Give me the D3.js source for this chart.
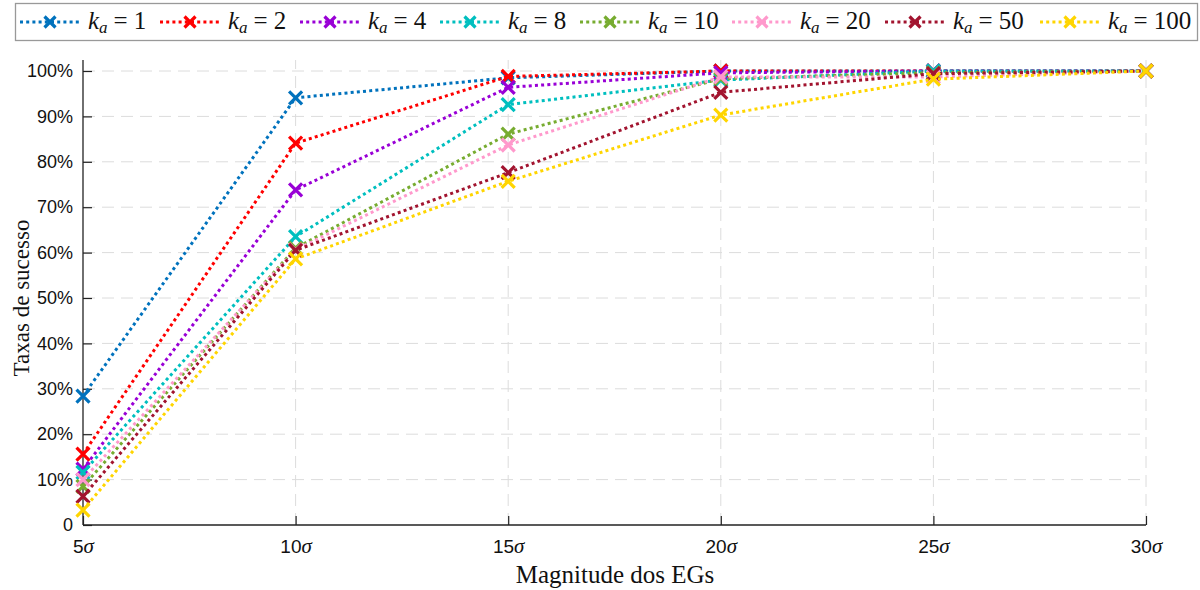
<!DOCTYPE html>
<html>
<head>
<meta charset="utf-8">
<script src="https://cdn.jsdelivr.net/npm/d3@7"></script>
<style>
  html, body { margin: 0; padding: 0; background: #fff; }
  svg { display: block; }
</style>
</head>
<body>
<svg id="chart" width="1200" height="590"></svg>
<script>
// Magnitudes (multiples of sigma) on the x axis
const magnitudes = [5, 10, 15, 20, 25, 30];
const xTickLabels = ["5", "10", "15", "20", "25", "30"];
const yTicks = [0, 10, 20, 30, 40, 50, 60, 70, 80, 90, 100];

// Success rate (%) for each k_a
const kaLabels = ["1", "2", "4", "8", "10", "20", "50", "100"];
const rateKa1   = [28.4, 94.1, 98.5, 100.0, 100.0, 100];
const rateKa2   = [15.6, 84.1, 98.8, 100.0, 100.0, 100];
const rateKa4   = [12.3, 73.8, 96.4,  99.6, 100.0, 100];
const rateKa8   = [11.6, 63.5, 92.6,  98.0, 100.0, 100];
const rateKa10  = [ 8.5, 61.0, 86.1,  98.3,  99.6, 100];
const rateKa20  = [10.0, 60.6, 83.7,  98.7,  98.7, 100];
const rateKa50  = [ 6.3, 60.5, 77.6,  95.3,  99.4, 100];
const rateKa100 = [ 3.3, 58.6, 75.7,  90.3,  98.2, 100];
const seriesColors = ["#0072BD", "#FF0000", "#9900D6", "#00BFBF", "#77AC30", "#FF99CC", "#A2142F", "#FFD500"];

const seriesValues = [rateKa1, rateKa2, rateKa4, rateKa8, rateKa10, rateKa20, rateKa50, rateKa100];
const series = kaLabels.map((k, i) => ({
  k, color: seriesColors[i],
  points: magnitudes.map((m, j) => ({ m, v: seriesValues[i][j] }))
}));

const svg = d3.select("#chart");
const plotLeft = 83, plotRight = 1146, plotBottom = 525, plotTop = 60;
const x = d3.scaleLinear().domain([5, 30]).range([plotLeft, plotRight]);
const y = d3.scaleLinear().domain([0, 100]).range([plotBottom, 71]);

const serif = "'Liberation Serif', 'DejaVu Serif', serif";
const sans = "'Liberation Sans', Arial, sans-serif";

// Grid
const grid = svg.append("g").attr("stroke", "#dcdcdc").attr("stroke-width", 1)
  .attr("stroke-dasharray", "12,7").attr("fill", "none");
grid.selectAll("line.gy").data(yTicks.filter(t => t > 0)).join("line")
  .attr("x1", plotLeft).attr("x2", plotRight).attr("y1", d => y(d)).attr("y2", d => y(d));
grid.selectAll("line.gx").data(magnitudes.filter(m => m > 5)).join("line")
  .attr("x1", d => x(d)).attr("x2", d => x(d)).attr("y1", plotBottom).attr("y2", plotTop);

// Axes with inward ticks
const yAxis = d3.axisLeft(y).tickValues(yTicks).tickSizeInner(-9).tickSizeOuter(0).tickPadding(10)
  .tickFormat(d => d === 0 ? "0" : d + "%");
const gy = svg.append("g").attr("transform", `translate(${plotLeft},0)`).call(yAxis);
gy.select(".domain").remove();
gy.selectAll("text").attr("font-family", sans).attr("font-size", 18).attr("fill", "#111");
gy.selectAll("line").attr("stroke", "#222").attr("stroke-width", 1.2);

const xAxis = d3.axisBottom(x).tickValues(magnitudes).tickSizeInner(-9).tickSizeOuter(0).tickPadding(15)
  .tickFormat((d, i) => xTickLabels[i]);
const gx = svg.append("g").attr("transform", `translate(0,${plotBottom})`).call(xAxis);
gx.select(".domain").remove();
gx.selectAll("line").attr("stroke", "#222").attr("stroke-width", 1.2);
gx.selectAll("text").attr("font-family", sans).attr("font-size", 19).attr("fill", "#111")
  .append("tspan").attr("font-family", serif).attr("font-style", "italic").attr("font-size", 21).text("σ");

svg.append("line").attr("x1", plotLeft).attr("x2", plotLeft).attr("y1", plotTop).attr("y2", plotBottom)
  .attr("stroke", "#222").attr("stroke-width", 1.3);
svg.append("line").attr("x1", plotLeft).attr("x2", plotRight).attr("y1", plotBottom).attr("y2", plotBottom)
  .attr("stroke", "#222").attr("stroke-width", 1.3);

// Axis titles
svg.append("text").attr("x", 615).attr("y", 583).attr("text-anchor", "middle")
  .attr("font-family", serif).attr("font-size", 25).attr("fill", "#111").text("Magnitude dos EGs");
svg.append("text").attr("transform", `translate(29,298) rotate(-90)`)
  .attr("text-anchor", "middle").attr("font-family", serif).attr("font-size", 23).attr("fill", "#111")
  .text("Taxas de sucesso");

// Series lines and markers
const line = d3.line().x(d => x(d.m)).y(d => y(d.v));
const cross = (g, cx, cy, r, color, w) => {
  g.append("path").attr("d", `M${cx - r},${cy - r}L${cx + r},${cy + r}M${cx - r},${cy + r}L${cx + r},${cy - r}`)
    .attr("stroke", color).attr("stroke-width", w).attr("fill", "none");
};
const gs = svg.append("g");
series.forEach(s => {
  const g = gs.append("g");
  g.append("path").attr("d", line(s.points)).attr("fill", "none").attr("stroke", s.color)
    .attr("stroke-width", 3).attr("stroke-dasharray", "3,3.2");
  s.points.forEach(p => cross(g, x(p.m), y(p.v), 6.5, s.color, 3.2));
});

// Legend
const lg = svg.append("g");
lg.append("rect").attr("x", 15.5).attr("y", 3.5).attr("width", 1182).attr("height", 37)
  .attr("fill", "#fff").attr("stroke", "#999").attr("stroke-width", 1.3);
const itemX = [20, 160, 300, 440, 580, 732, 885, 1040];
series.forEach((s, i) => {
  const x0 = itemX[i];
  const g = lg.append("g");
  g.append("line").attr("x1", x0).attr("x2", x0 + 60).attr("y1", 22).attr("y2", 22)
    .attr("stroke", s.color).attr("stroke-width", 3).attr("stroke-dasharray", "3,3.2");
  cross(g, x0 + 30, 22, 5.5, s.color, 3.2);
  const t = g.append("text").attr("x", x0 + 68).attr("y", 29).attr("font-family", serif)
    .attr("font-size", 25).attr("fill", "#111");
  t.append("tspan").attr("font-style", "italic").text("k");
  t.append("tspan").attr("font-style", "italic").attr("font-size", 17).attr("dy", 4).text("a");
  t.append("tspan").attr("dy", -4).attr("dx", 6).text("=");
  t.append("tspan").attr("dx", 6).text(s.k);
});
</script>
</body>
</html>
